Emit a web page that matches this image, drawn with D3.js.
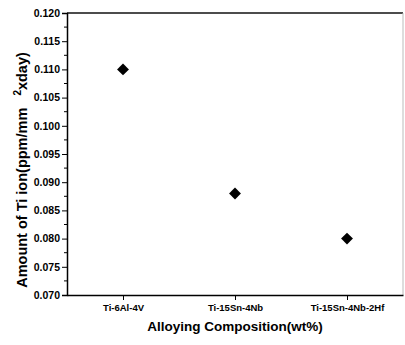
<!DOCTYPE html>
<html>
<head>
<meta charset="utf-8">
<script src="https://cdn.jsdelivr.net/npm/d3@7"></script>
<style>
body { margin: 0; background: #fff; }
text { font-family: "Liberation Sans", Arial, sans-serif; font-weight: bold; fill: #000; }
</style>
</head>
<body>
<div id="chart"></div>
<script>
// data
var alloys = ["Ti-6Al-4V", "Ti-15Sn-4Nb", "Ti-15Sn-4Nb-2Hf"];
var tiIon = [0.110, 0.088, 0.080];
var yTicks = [0.070, 0.075, 0.080, 0.085, 0.090, 0.095, 0.100, 0.105, 0.110, 0.115, 0.120];

var width = 405, height = 345;
var margin = {top: 13, right: 2, bottom: 50, left: 67};

var svg = d3.select("#chart")
  .append("svg")
  .attr("width", width)
  .attr("height", height);

var g = svg.append("g")
  .attr("transform", "translate(" + margin.left + "," + margin.top + ")");

var w = width - margin.left - margin.right,
    h = height - margin.top - margin.bottom;

var x = d3.scalePoint()
  .domain(alloys)
  .range([0, w])
  .padding(0.5);

var y = d3.scaleLinear()
  .domain([0.070, 0.120])
  .range([h, 0]);

// frame (top + right)
g.append("line").attr("x1", 0).attr("x2", w).attr("y1", 0).attr("y2", 0)
  .attr("stroke", "#111").attr("stroke-width", 1.5);
g.append("line").attr("x1", w).attr("x2", w).attr("y1", 0).attr("y2", h)
  .attr("stroke", "#bbb").attr("stroke-width", 1);

// minor ticks on y
var minor = d3.range(0.0725, 0.120, 0.005);
g.selectAll("minorY")
  .data(minor)
  .enter()
  .append("line")
  .attr("x1", -3).attr("x2", 0)
  .attr("y1", function(d){ return y(d); })
  .attr("y2", function(d){ return y(d); })
  .attr("stroke", "#000");

var yAxis = g.append("g")
  .call(d3.axisLeft(y).tickValues(yTicks).tickFormat(d3.format(".3f")).tickSize(5).tickPadding(2));
yAxis.select(".domain").attr("stroke-width", 1.5);
yAxis.selectAll("text").style("font-size", "10.5px");

var xAxis = g.append("g")
  .attr("transform", "translate(0," + h + ")")
  .call(d3.axisBottom(x).tickSize(5).tickSizeOuter(0).tickPadding(4));
xAxis.select(".domain").attr("stroke-width", 1.5);
xAxis.selectAll("text").style("font-size", "9.5px");

// diamonds
g.selectAll("pts")
  .data(alloys)
  .enter()
  .append("path")
  .attr("d", d3.symbol().type(d3.symbolDiamond2).size(90))
  .attr("transform", function(d, i){ return "translate(" + x(d) + "," + y(tiIon[i]) + ")"; })
  .attr("fill", "#000");

// axis titles
svg.append("text")
  .attr("x", margin.left + w / 2)
  .attr("y", 331)
  .attr("text-anchor", "middle")
  .style("font-size", "13.5px")
  .text("Alloying Composition(wt%)");

var yt = svg.append("text")
  .attr("transform", "translate(27," + 170 + ") rotate(-90)")
  .attr("text-anchor", "middle")
  .style("font-size", "14.5px");
yt.append("tspan").text("Amount of Ti ion(ppm/mm\u00A0\u00A0\u00A0");
yt.append("tspan").attr("dy", -6).style("font-size", "10px").text("2");
yt.append("tspan").attr("dy", 6).text("xday)");
</script>
</body>
</html>
